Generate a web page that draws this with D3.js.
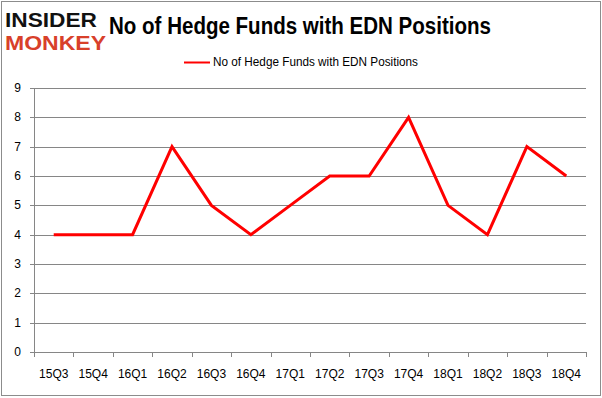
<!DOCTYPE html>
<html>
<head>
<meta charset="utf-8">
<script src="https://cdn.jsdelivr.net/npm/d3@7"></script>
<style>
  body { margin: 0; background: #fff; }
  svg text { font-family: "Liberation Sans", "DejaVu Sans", sans-serif; }
</style>
</head>
<body>
<div id="chart"></div>
<script>
// chart data
const quarters = ["15Q3", "15Q4", "16Q1", "16Q2", "16Q3", "16Q4", "17Q1", "17Q2", "17Q3", "17Q4", "18Q1", "18Q2", "18Q3", "18Q4"];
const funds = [4, 4, 4, 7, 5, 4, 5, 6, 6, 8, 5, 4, 7, 6];
const yTicks = [0, 1, 2, 3, 4, 5, 6, 7, 8, 9];
const seriesName = "No of Hedge Funds with EDN Positions";

const width = 602, height = 398;
const margin = {top: 88, right: 16, bottom: 46, left: 34};

const svg = d3.select("#chart").append("svg")
    .attr("width", width)
    .attr("height", height);

// outer frame
svg.append("rect")
    .attr("x", 1.5).attr("y", 1.5)
    .attr("width", width - 3).attr("height", height - 4)
    .attr("fill", "#fff")
    .attr("stroke", "#8c8c8c");

const x = d3.scaleBand()
    .domain(quarters)
    .range([margin.left, width - margin.right]);

const y = d3.scaleLinear()
    .domain([0, 9])
    .range([height - margin.bottom, margin.top]);

// gridlines
svg.append("g")
    .selectAll("line")
    .data(yTicks)
    .enter().append("line")
    .attr("x1", margin.left - 4)
    .attr("x2", width - margin.right)
    .attr("y1", d => Math.round(y(d)) + 0.5)
    .attr("y2", d => Math.round(y(d)) + 0.5)
    .attr("stroke", "#868686")
    .attr("stroke-width", 1);

// y labels
svg.append("g")
    .selectAll("text")
    .data(yTicks)
    .enter().append("text")
    .attr("x", margin.left - 13)
    .attr("y", d => y(d) + 4)
    .attr("text-anchor", "end")
    .attr("font-size", 12)
    .attr("fill", "#000")
    .text(d => d);

// y axis line
svg.append("line")
    .attr("x1", margin.left + 0.5).attr("x2", margin.left + 0.5)
    .attr("y1", y(9)).attr("y2", y(0))
    .attr("stroke", "#868686");

// x axis ticks (category boundaries)
const bounds = quarters.map(q => x(q)).concat([x.range()[1]]);
svg.append("g")
    .selectAll("line")
    .data(bounds)
    .enter().append("line")
    .attr("x1", d => Math.round(d) + 0.5)
    .attr("x2", d => Math.round(d) + 0.5)
    .attr("y1", y(0))
    .attr("y2", y(0) + 5)
    .attr("stroke", "#868686");

// x labels
svg.append("g")
    .selectAll("text")
    .data(quarters)
    .enter().append("text")
    .attr("x", d => x(d) + x.bandwidth() / 2)
    .attr("y", y(0) + 26)
    .attr("text-anchor", "middle")
    .attr("font-size", 12)
    .attr("fill", "#000")
    .text(d => d);

// series line
const line = d3.line()
    .x((d, i) => x(quarters[i]) + x.bandwidth() / 2)
    .y(d => y(d));

svg.append("path")
    .datum(funds)
    .attr("d", line)
    .attr("fill", "none")
    .attr("stroke", "#ff0000")
    .attr("stroke-width", 3)
    .attr("stroke-linejoin", "miter");

// title
svg.append("text")
    .attr("x", 109)
    .attr("y", 34)
    .attr("font-size", 23)
    .attr("font-weight", "bold")
    .attr("textLength", 382)
    .attr("lengthAdjust", "spacingAndGlyphs")
    .attr("fill", "#000")
    .text(seriesName);

// legend
svg.append("line")
    .attr("x1", 184).attr("x2", 210)
    .attr("y1", 62.5).attr("y2", 62.5)
    .attr("stroke", "#ff0000")
    .attr("stroke-width", 2);
svg.append("text")
    .attr("x", 213)
    .attr("y", 66)
    .attr("font-size", 12)
    .attr("textLength", 205)
    .attr("lengthAdjust", "spacingAndGlyphs")
    .attr("fill", "#000")
    .text(seriesName);

// logo
const logo = svg.append("g").attr("font-weight", "bold");
logo.append("text")
    .attr("x", 5).attr("y", 27)
    .attr("font-size", 20)
    .attr("textLength", 92)
    .attr("lengthAdjust", "spacingAndGlyphs")
    .attr("fill", "#111")
    .text("INSIDER");
logo.append("text")
    .attr("x", 5).attr("y", 50)
    .attr("font-size", 20)
    .attr("textLength", 101)
    .attr("lengthAdjust", "spacingAndGlyphs")
    .attr("fill", "#d8402a")
    .text("MONKEY");
</script>
</body>
</html>
